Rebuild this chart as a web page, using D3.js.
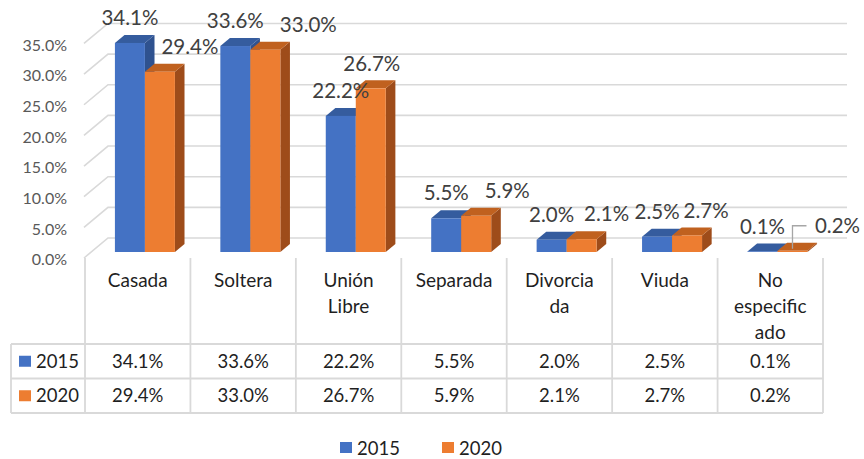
<!DOCTYPE html>
<html><head><meta charset="utf-8">
<script src="https://cdn.jsdelivr.net/npm/d3@7"></script>
<style>html,body{margin:0;padding:0;background:#fff}svg{display:block}</style>
</head><body>
<svg id="c" width="864" height="459"></svg>
<script>
const categories = ["Casada","Soltera","Unión Libre","Separada","Divorciada","Viuda","No especificado"];
const categoryLines = [["Casada"],["Soltera"],["Unión","Libre"],["Separada"],["Divorcia","da"],["Viuda"],["No","especific","ado"]];
const seriesNames = ["2015","2020"];
const values2015 = [34.1,33.6,22.2,5.5,2.0,2.5,0.1];
const values2020 = [29.4,33.0,26.7,5.9,2.1,2.7,0.2];
const yTicks = [0,5,10,15,20,25,30,35];
const tickLabels = ["0.0%","5.0%","10.0%","15.0%","20.0%","25.0%","30.0%","35.0%"];

// layout (label placement tweaks for the 2020 series, as in the source chart)
const label2020Shift = [30,43,1,31,25,19,45];

const colors = {
  "2015": {front:"#4472C4", top:"#355C9E", side:"#2F528F"},
  "2020": {front:"#ED7D31", top:"#C0611F", side:"#9E4C1A"}
};
const font = "Lato, 'Open Sans', sans-serif";

const svg = d3.select("#c");
const left = 85, right = 823;
const x = d3.scaleBand().domain(categories).range([left, right]).paddingInner(0).paddingOuter(0);
const y = d3.scaleLinear().domain([0,35]).range([258, 258 - 35*6.13]);
const sub = d3.scaleBand().domain(seriesNames).range([0, 60]);
const DXR = 1.2; // x shift per unit of depth
const P = (px, v, d) => [px + d*DXR, y(v) - d];
const backD = 20, barFrontD = 6, barBackD = 14;

// gridlines: side wall + back wall
const g = svg.append("g");
yTicks.forEach(v => {
  const pts = [P(left-1, v, 0), P(left-1, v, backD), P(right, v, backD)];
  g.append("polyline").attr("points", pts.map(p=>p.join(",")).join(" "))
    .attr("fill","none").attr("stroke","#D9D9D9").attr("stroke-width",1.6);
});

// axis labels
svg.append("g").selectAll("text").data(yTicks).join("text")
  .attr("x", 67).attr("y", (d)=> y(d) + 1.5 + 5.8)
  .attr("text-anchor","end").attr("font-family",font).attr("font-size",16)
  .attr("fill","#595959").text((d,i)=>tickLabels[i]);

// bars
const data = [];
categories.forEach((c,i)=>{
  data.push({cat:c, s:"2015", v:values2015[i], i});
  data.push({cat:c, s:"2020", v:values2020[i], i});
});
const bars = svg.append("g");
data.forEach(d => {
  const x0 = x(d.cat) + x.bandwidth()/2 - 30 + sub(d.s);
  const x1 = x0 + sub.bandwidth();
  const col = colors[d.s];
  const f0 = P(x0, 0, barFrontD), f1 = P(x1, 0, barFrontD);
  const t0 = P(x0, d.v, barFrontD), t1 = P(x1, d.v, barFrontD);
  const b0 = P(x0, d.v, barBackD), b1 = P(x1, d.v, barBackD);
  const bb1 = P(x1, 0, barBackD);
  const gb = bars.append("g");
  gb.append("polygon").attr("points",[t1,b1,bb1,f1].map(p=>p.join(",")).join(" ")).attr("fill",col.side);
  gb.append("polygon").attr("points",[t0,t1,b1,b0].map(p=>p.join(",")).join(" ")).attr("fill",col.top);
  gb.append("rect").attr("x",t0[0]).attr("y",t0[1]).attr("width",x1-x0).attr("height",Math.max(0,f0[1]-t0[1])).attr("fill",col.front);
});

// data labels
const lab = svg.append("g");
data.forEach(d => {
  const cx = P(x(d.cat) + x.bandwidth()/2 - 30 + sub(d.s) + sub.bandwidth()/2, d.v, barFrontD);
  const shift = d.s === "2020" ? label2020Shift[d.i] : 0;
  lab.append("text").attr("x", cx[0] + shift).attr("y", cx[1] - 25 + 7.2)
    .attr("text-anchor","middle").attr("font-family",font).attr("font-size",20.5)
    .attr("fill","#404040").text(d.v.toFixed(1) + "%");
});
// leader line for the last 2020 label
{
  const i = categories.length - 1;
  const bx = x(categories[i]) + x.bandwidth()/2 - 30 + sub("2020") + sub.bandwidth()/2;
  const p = P(bx, values2020[i], barFrontD);
  const ly = p[1] - 25;
  lab.append("polyline").attr("points", `${p[0]},${p[1]-2} ${p[0]},${ly} ${p[0]+14},${ly}`)
    .attr("fill","none").attr("stroke","#A6A6A6").attr("stroke-width",1.3);
}

// data table
const tbl = svg.append("g");
const lineC = "#D9D9D9";
const rowTop = 344, rowH = 34.5;
const tableLeft = 11;
d3.range(categories.length+1).forEach(k => {
  const xx = left + k * x.bandwidth();
  tbl.append("line").attr("x1",xx).attr("x2",xx).attr("y1",258).attr("y2",rowTop+2*rowH).attr("stroke",lineC).attr("stroke-width",1.8);
});
tbl.append("line").attr("x1",tableLeft).attr("x2",tableLeft).attr("y1",rowTop).attr("y2",rowTop+2*rowH).attr("stroke",lineC).attr("stroke-width",1.8);
[0,1,2].forEach(r => {
  tbl.append("line").attr("x1",tableLeft).attr("x2",right).attr("y1",rowTop+r*rowH).attr("y2",rowTop+r*rowH).attr("stroke",lineC).attr("stroke-width",1.8);
});
categories.forEach((c,i)=>{
  categoryLines[i].forEach((ln,j)=>{
    tbl.append("text").attr("x", x(c)+x.bandwidth()/2).attr("y", 280 + j*26 + 6.8)
      .attr("text-anchor","middle").attr("font-family",font).attr("font-size",19)
      .attr("fill","#1f1f1f").text(ln);
  });
});
[values2015, values2020].forEach((vals, r) => {
  const cy = rowTop + r*rowH + rowH/2;
  tbl.append("rect").attr("x",19).attr("y",cy-5.5).attr("width",12).attr("height",11).attr("fill",colors[seriesNames[r]].front);
  tbl.append("text").attr("x",36).attr("y",cy+6.5).attr("font-family",font).attr("font-size",18.5).attr("fill","#1f1f1f").text(seriesNames[r]);
  vals.forEach((v,i)=>{
    tbl.append("text").attr("x", x(categories[i])+x.bandwidth()/2).attr("y", cy+6.5)
      .attr("text-anchor","middle").attr("font-family",font).attr("font-size",18.5)
      .attr("fill","#1f1f1f").text(v.toFixed(1)+"%");
  });
});

// legend
const leg = svg.append("g");
const legX = [340, 442];
seriesNames.forEach((s,k)=>{
  leg.append("rect").attr("x",legX[k]).attr("y",442).attr("width",12).attr("height",11).attr("fill",colors[s].front);
  leg.append("text").attr("x",legX[k]+17).attr("y",448+6.5).attr("font-family",font).attr("font-size",18.5).attr("fill","#1f1f1f").text(s);
});
</script>
</body></html>
